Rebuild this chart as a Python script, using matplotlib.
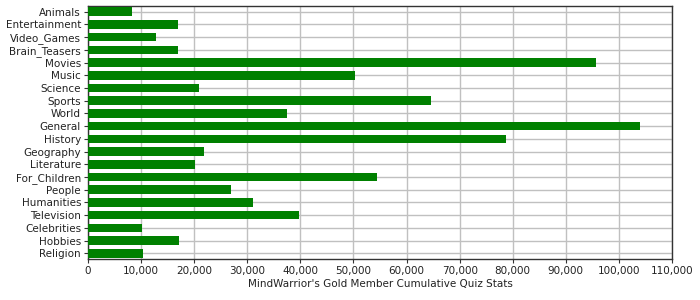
import matplotlib
matplotlib.use('Agg')
import matplotlib.pyplot as plt
from matplotlib.ticker import FuncFormatter

categories = ['Animals', 'Entertainment', 'Video_Games', 'Brain_Teasers', 'Movies',
              'Music', 'Science', 'Sports', 'World', 'General', 'History',
              'Geography', 'Literature', 'For_Children', 'People', 'Humanities',
              'Television', 'Celebrities', 'Hobbies', 'Religion']
values = [8300, 16900, 12900, 16900, 95600,
          50200, 20900, 64600, 37400, 103900, 78800,
          21800, 20200, 54400, 26900, 31000,
          39700, 10200, 17100, 10400]

bar_color = '#008000'
grid_color = '#c0c0c0'
axis_color = '#333333'

fig = plt.figure(figsize=(7, 3), dpi=100)
ax = fig.add_axes([0.1257, 0.1367, 0.8343, 0.8433])

y = list(range(len(categories)))
ax.barh(y, values, height=0.68, color=bar_color, zorder=3)

ax.set_xlim(0, 110000)
ax.set_ylim(len(categories) - 1 + 0.45, -0.45)
ax.set_xticks(range(0, 110001, 10000))
ax.xaxis.set_major_formatter(FuncFormatter(lambda v, p: f'{int(v):,}'))
ax.set_yticks(y)
ax.set_yticklabels(categories)

ax.grid(True, axis='both', color=grid_color, linewidth=1, zorder=0)
ax.set_axisbelow(True)
for s in ax.spines.values():
    s.set_color(axis_color)
    s.set_linewidth(1)

ax.tick_params(axis='both', labelsize=7.5, colors=axis_color, length=3, width=0.8,
               labelcolor='#222222', pad=2)
ax.set_xlabel("MindWarrior's Gold Member Cumulative Quiz Stats", fontsize=7.5,
              color='#222222', labelpad=2)

fig.savefig('out.png', dpi=100)
